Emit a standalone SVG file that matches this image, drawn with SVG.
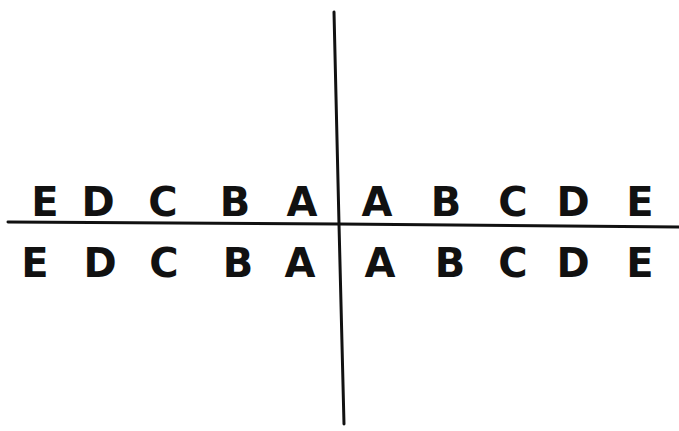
<svg xmlns="http://www.w3.org/2000/svg" width="679" height="431" viewBox="0 0 679 431">
<style>
.l{fill:#111;font-family:"DejaVu Sans","Liberation Sans",sans-serif;font-size:40px;font-weight:bold;text-anchor:middle}
.ax{stroke:#111;stroke-width:3;fill:none;stroke-linecap:round}
</style>
<rect width="679" height="431" fill="#fff"/>
<g id="axes">
<path class="ax" d="M334 12 L339 224 L344 424"/>
<path class="ax" d="M8 222 L339 224 L679 227"/>
</g>
<g id="top-left">
<text class="l" x="45" y="216">E</text>
<text class="l" x="98" y="216">D</text>
<text class="l" x="163" y="216">C</text>
<text class="l" x="235" y="216">B</text>
<text class="l" x="302" y="216">A</text>
</g>
<g id="top-right">
<text class="l" x="377" y="216">A</text>
<text class="l" x="446" y="216">B</text>
<text class="l" x="513" y="216">C</text>
<text class="l" x="573" y="216">D</text>
<text class="l" x="640" y="216">E</text>
</g>
<g id="bottom-left">
<text class="l" x="35" y="277">E</text>
<text class="l" x="100" y="277">D</text>
<text class="l" x="164" y="277">C</text>
<text class="l" x="238" y="277">B</text>
<text class="l" x="300" y="277">A</text>
</g>
<g id="bottom-right">
<text class="l" x="380" y="277">A</text>
<text class="l" x="450" y="277">B</text>
<text class="l" x="513" y="277">C</text>
<text class="l" x="573" y="277">D</text>
<text class="l" x="640" y="277">E</text>
</g>
</svg>
